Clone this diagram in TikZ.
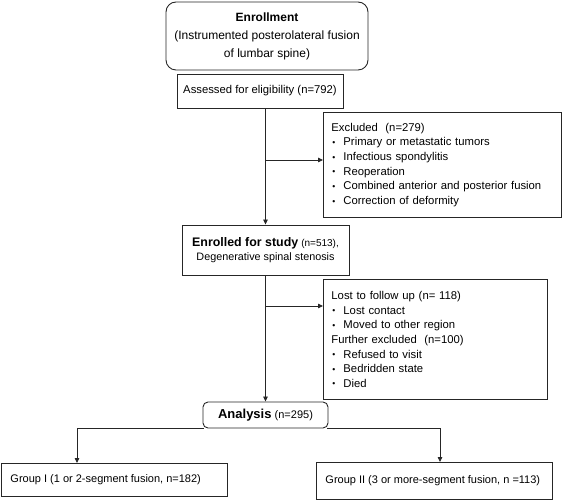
\documentclass[tikz,border=0pt]{standalone}
\usepackage{fontspec}
\setmainfont{Liberation Sans}
\usetikzlibrary{arrows.meta}

\newcommand\itm{\makebox[12pt][l]{\hspace{1pt}\raisebox{0.3pt}{\fontsize{8.5}{8.5}\selectfont •}}}

\begin{document}
\begin{tikzpicture}[x=1pt,y=-1pt,
  box/.style={draw=black!85,line width=0.9pt,inner sep=0pt,font=\fontsize{11.3}{14.6}\selectfont},
  roundbox/.style={box,rounded corners=5pt},
  leftbox/.style={box,align=left,inner xsep=8pt,anchor=north west},
  arr/.style={-{Triangle[length=5pt,width=4.5pt]},line width=0.8pt,draw=black!85}]

\useasboundingbox (0,0) rectangle (567,502);

\node[roundbox,rounded corners=10pt,minimum width=202pt,minimum height=68pt,align=center,font=\fontsize{12}{18}\selectfont] (enroll) at (267,36) {\textbf{Enrollment}\\(Instrumented posterolateral fusion\\of lumbar spine)};
\node[box,minimum width=166pt,minimum height=34pt] (assess) at (260,91) {Assessed for eligibility (n=792)};

\node[leftbox,text width=222pt,minimum height=105pt] (excl) at (323,112) {Excluded\ \ (n=279)\\
\itm Primary or metastatic tumors\\
\itm Infectious spondylitis\\
\itm Reoperation\\
\itm Combined anterior and posterior fusion\\
\itm Correction of deformity};

\node[box,minimum width=167pt,minimum height=50pt,align=center,font=\fontsize{10.8}{13.4}\selectfont] (enrolled) at (265.5,250) {{\fontsize{12.4}{13.4}\selectfont\textbf{Enrolled for study}} {\fontsize{10}{13.4}\selectfont(n=513),}\\Degenerative spinal stenosis};

\node[leftbox,text width=208pt,minimum height=120pt] (lost) at (323,279) {Lost to follow up (n= 118)\\
\itm Lost contact\\
\itm Moved to other region\\
Further excluded\ \ (n=100)\\
\itm Refused to visit\\
\itm Bedridden state\\
\itm Died};

\node[roundbox,minimum width=125pt,minimum height=26pt] (analysis) at (265.5,415) {{\fontsize{13}{14}\selectfont\textbf{Analysis}} {\fontsize{11}{14}\selectfont(n=295)}};

\node[box,anchor=north west,minimum width=226pt,minimum height=33pt,font=\fontsize{11}{14}\selectfont] (g1) at (1,463) {\makebox[208pt][l]{Group I (1 or 2-segment fusion, n=182)}};
\node[box,anchor=north west,minimum width=236pt,minimum height=37pt,font=\fontsize{11}{14}\selectfont] (g2) at (316,462) {\makebox[218pt][l]{Group II (3 or more-segment fusion, n =113)}};

\coordinate (exclin) at (323,160);
\coordinate (lostin) at (323,306);
\coordinate (g1in) at (77,463);
\coordinate (g2in) at (440,462);

\draw[arr] (enrolled.north |- assess.south) -- (enrolled.north);
\draw[arr] (enrolled.north |- exclin) -- (exclin);
\draw[arr] (enrolled.south) -- (analysis.north);
\draw[arr] (enrolled.south |- lostin) -- (lostin);
\draw[arr] ([xshift=1.5pt]analysis.south west) -| (g1in);
\draw[arr] ([xshift=-1.5pt]analysis.south east) -| (g2in);
\end{tikzpicture}
\end{document}
